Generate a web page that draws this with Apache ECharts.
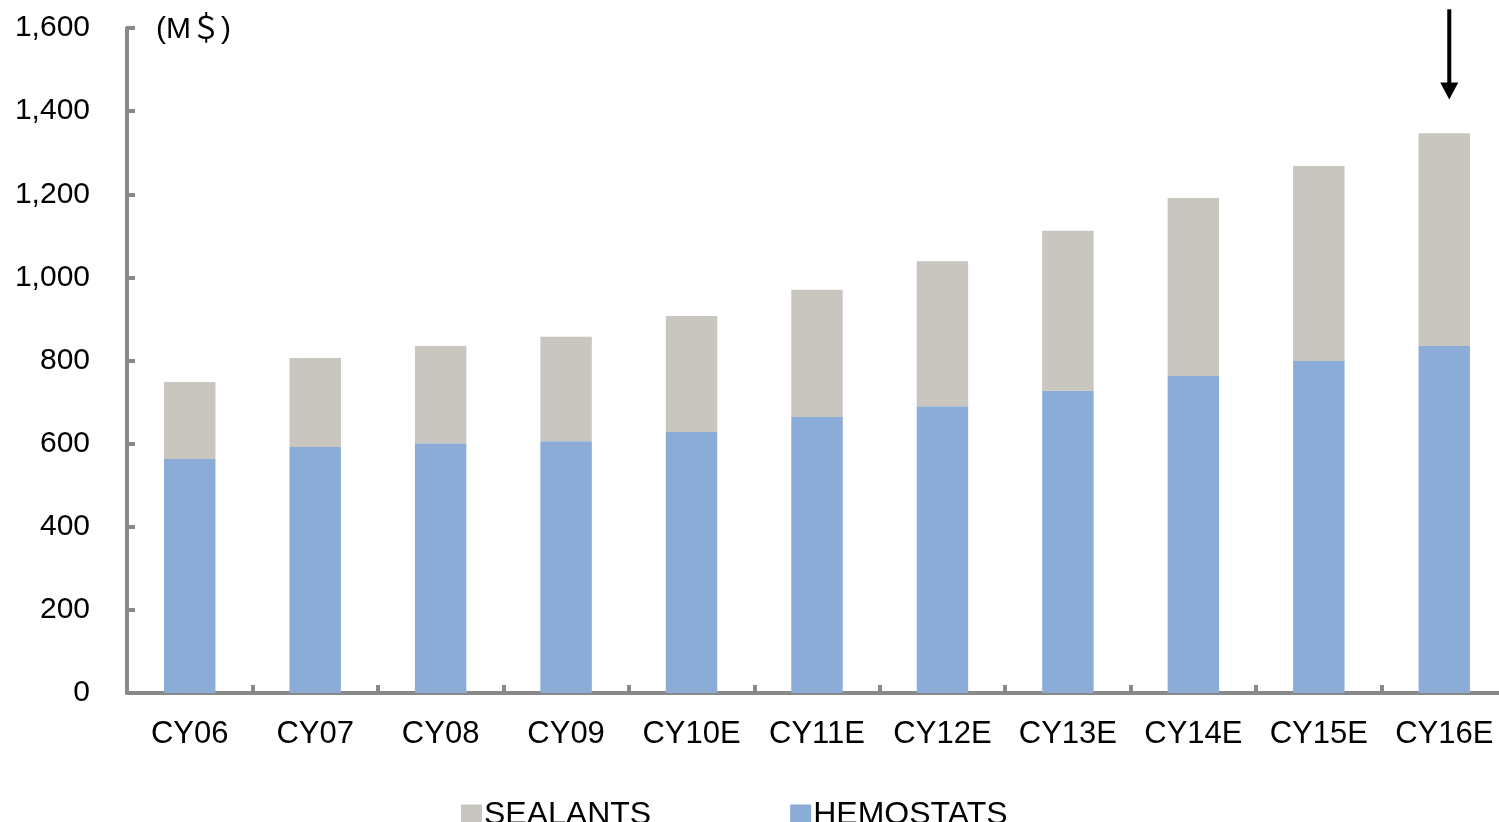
<!DOCTYPE html>
<html>
<head>
<meta charset="utf-8">
<script src="https://cdn.jsdelivr.net/npm/echarts@6/dist/echarts.min.js"></script>
<style>
  html, body { margin: 0; padding: 0; background: #fff; overflow: hidden; }
  /* the axis runs a little past the right edge of the window, as in the source */
  #chart { width: 1507px; height: 822px; }
</style>
</head>
<body>
<div id="chart"></div>
<script>
const categories = ['CY06', 'CY07', 'CY08', 'CY09', 'CY10E', 'CY11E', 'CY12E', 'CY13E', 'CY14E', 'CY15E', 'CY16E'];
const hemostats = [563, 592, 601, 606, 628, 664, 690, 727, 763, 799, 835];
const sealants = [185, 214, 234, 251, 279, 306, 349, 385, 428, 469, 512];
const yTicks = [0, 200, 400, 600, 800, 1000, 1200, 1400, 1600];
// arrow above the last bar, in data values
const arrowFrom = 1645;
const arrowTo = 1428;

const font = "'Liberation Sans', Arial, sans-serif";
const axisGray = '#898989';

const chart = echarts.init(document.getElementById('chart'));
chart.setOption({
  animation: false,
  backgroundColor: '#fff',
  grid: { left: 127, right: 0, top: 28, bottom: 129, containLabel: false },
  title: {
    text: '(M＄)',
    left: 151,
    top: 10,
    textStyle: { fontFamily: font + ", 'Noto Sans CJK JP'", fontSize: 30, fontWeight: 'normal', color: '#000' }
  },
  legend: {
    data: ['SEALANTS', 'HEMOSTATS'],
    left: 456,
    top: 794,
    itemWidth: 21,
    itemHeight: 21,
    itemGap: 139,
    icon: 'rect',
    textStyle: { fontFamily: font, fontSize: 32, color: '#000', padding: [0, 0, 0, -3] }
  },
  xAxis: {
    type: 'category',
    data: categories,
    axisLine: { lineStyle: { color: axisGray, width: 4 } },
    axisTick: { show: true, inside: true, length: 8, interval: 0, lineStyle: { color: axisGray, width: 4 } },
    axisLabel: { fontFamily: font, fontSize: 31, color: '#000', margin: 26, interval: 0 }
  },
  yAxis: {
    type: 'value',
    min: 0,
    max: 1600,
    interval: 200,
    axisLine: { show: true, lineStyle: { color: axisGray, width: 4 } },
    axisTick: { show: true, inside: true, length: 8, lineStyle: { color: axisGray, width: 4 } },
    splitLine: { show: false },
    axisLabel: {
      fontFamily: font, fontSize: 30, color: '#000', margin: 37,
      formatter: v => yTicks.includes(v) ? v.toLocaleString('en-US') : ''
    }
  },
  series: [
    {
      name: 'HEMOSTATS',
      type: 'bar',
      stack: 'total',
      barWidth: '41%',
      data: hemostats,
      itemStyle: { color: '#8AACD6' }
    },
    {
      name: 'SEALANTS',
      type: 'bar',
      stack: 'total',
      barWidth: '41%',
      data: sealants,
      itemStyle: { color: '#C9C6BF' }
    }
  ]
});

const last = categories[categories.length - 1];
const p1 = chart.convertToPixel({ gridIndex: 0 }, [last, arrowFrom]);
const p2 = chart.convertToPixel({ gridIndex: 0 }, [last, arrowTo]);
const x = p1[0] + 5;
chart.setOption({
  graphic: [
    { type: 'line', shape: { x1: x, y1: p1[1], x2: x, y2: p2[1] - 14 }, style: { stroke: '#000', lineWidth: 4 } },
    { type: 'polygon', shape: { points: [[x - 9, p2[1] - 17], [x + 9, p2[1] - 17], [x, p2[1]]] }, style: { fill: '#000' } }
  ]
});
</script>
</body>
</html>
